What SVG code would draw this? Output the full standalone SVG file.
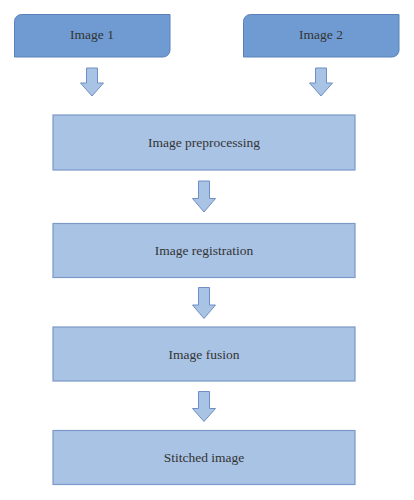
<svg xmlns="http://www.w3.org/2000/svg" width="414" height="500" viewBox="0 0 414 500">
<style>
.top{fill:#6f9bd2;stroke:#5a80ba;stroke-width:1}
.box{fill:#a9c3e5;stroke:#7b98c9;stroke-width:1.2}
.arr{fill:#a9c3e5;stroke:#6f8ec4;stroke-width:1}
text{font-family:"Liberation Serif","Times New Roman",serif;font-size:13.5px;fill:#333;text-anchor:middle}
</style>
<rect width="414" height="500" fill="#fff"/>
<g id="image1">
<path class="top" d="M21.5,14.5 H170 V50 A7,7 0 0 1 163,57 H14.5 V21.5 A7,7 0 0 1 21.5,14.5 Z"/>
<text x="92" y="39">Image 1</text>
</g>
<g id="image2">
<path class="top" d="M250.5,14.5 H399 V50 A7,7 0 0 1 392,57 H243.5 V21.5 A7,7 0 0 1 250.5,14.5 Z"/>
<text x="321" y="39">Image 2</text>
</g>
<g id="preprocessing">
<rect class="box" x="53" y="115" width="302" height="55"/>
<text x="204" y="147">Image preprocessing</text>
</g>
<g id="registration">
<rect class="box" x="53" y="223.5" width="302" height="54"/>
<text x="204" y="255">Image registration</text>
</g>
<g id="fusion">
<rect class="box" x="53" y="327" width="302" height="54"/>
<text x="204" y="358.5">Image fusion</text>
</g>
<g id="stitched">
<rect class="box" x="53" y="430.5" width="302" height="54"/>
<text x="204" y="462">Stitched image</text>
</g>
<g id="connectors">
<polygon class="arr" points="86.5,68 97.5,68 97.5,83 103.5,83 92,96 80.5,83 86.5,83"/>
<polygon class="arr" points="315.5,68 326.5,68 326.5,83 332.5,83 321,96 309.5,83 315.5,83"/>
<polygon class="arr" points="198.5,181 209.5,181 209.5,198.5 215.5,198.5 204,212 192.5,198.5 198.5,198.5"/>
<polygon class="arr" points="198.5,287.5 209.5,287.5 209.5,305 215.5,305 204,318.5 192.5,305 198.5,305"/>
<polygon class="arr" points="198.5,391.5 209.5,391.5 209.5,408.5 215.5,408.5 204,421.5 192.5,408.5 198.5,408.5"/>
</g>
</svg>
